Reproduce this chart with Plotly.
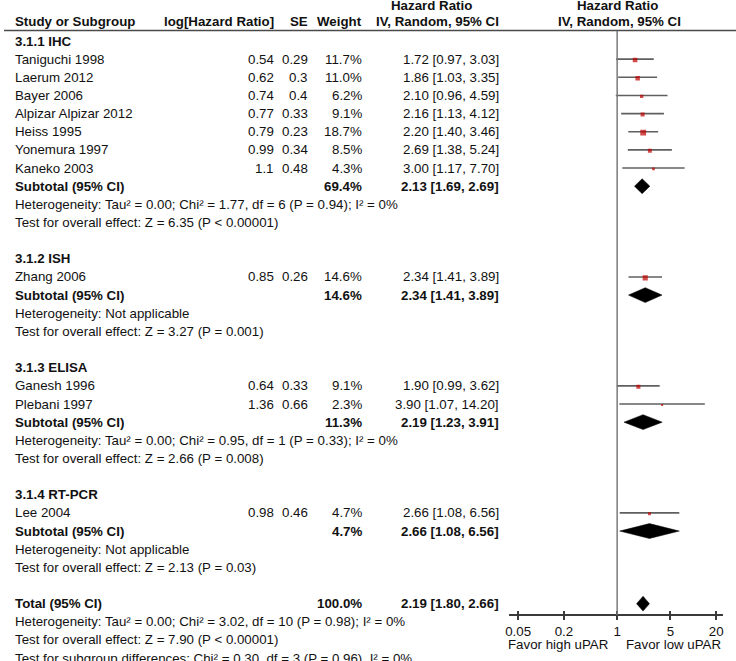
import math
import plotly.graph_objects as go

W, H = 736, 661
FONT = "Liberation Sans, Arial, sans-serif"
FS = 13.3
TXT = "#111111"

# ---------------- data ----------------
group_names = ["3.1.1 IHC", "3.1.2 ISH", "3.1.3 ELISA", "3.1.4 RT-PCR"]

ihc_studies = ["Taniguchi 1998", "Laerum 2012", "Bayer 2006", "Alpizar Alpizar 2012",
               "Heiss 1995", "Yonemura 1997", "Kaneko 2003"]
ihc_loghr = ["0.54", "0.62", "0.74", "0.77", "0.79", "0.99", "1.1"]
ihc_se = ["0.29", "0.3", "0.4", "0.33", "0.23", "0.34", "0.48"]
ihc_weight = [11.7, 11.0, 6.2, 9.1, 18.7, 8.5, 4.3]
ihc_hr = [1.72, 1.86, 2.10, 2.16, 2.20, 2.69, 3.00]
ihc_lo = [0.97, 1.03, 0.96, 1.13, 1.40, 1.38, 1.17]
ihc_hi = [3.03, 3.35, 4.59, 4.12, 3.46, 5.24, 7.70]

ish_studies = ["Zhang 2006"]
ish_loghr = ["0.85"]
ish_se = ["0.26"]
ish_weight = [14.6]
ish_hr = [2.34]
ish_lo = [1.41]
ish_hi = [3.89]

elisa_studies = ["Ganesh 1996", "Plebani 1997"]
elisa_loghr = ["0.64", "1.36"]
elisa_se = ["0.33", "0.66"]
elisa_weight = [9.1, 2.3]
elisa_hr = [1.90, 3.90]
elisa_lo = [0.99, 1.07]
elisa_hi = [3.62, 14.20]

rtpcr_studies = ["Lee 2004"]
rtpcr_loghr = ["0.98"]
rtpcr_se = ["0.46"]
rtpcr_weight = [4.7]
rtpcr_hr = [2.66]
rtpcr_lo = [1.08]
rtpcr_hi = [6.56]

subtotal_weight = [69.4, 14.6, 11.3, 4.7]
subtotal_hr = [2.13, 2.34, 2.19, 2.66]
subtotal_lo = [1.69, 1.41, 1.23, 1.08]
subtotal_hi = [2.69, 3.89, 3.91, 6.56]
heterogeneity = [
    "Heterogeneity: Tau² = 0.00; Chi² = 1.77, df = 6 (P = 0.94); I² = 0%",
    "Heterogeneity: Not applicable",
    "Heterogeneity: Tau² = 0.00; Chi² = 0.95, df = 1 (P = 0.33); I² = 0%",
    "Heterogeneity: Not applicable",
]
overall_effect = [
    "Test for overall effect: Z = 6.35 (P < 0.00001)",
    "Test for overall effect: Z = 3.27 (P = 0.001)",
    "Test for overall effect: Z = 2.66 (P = 0.008)",
    "Test for overall effect: Z = 2.13 (P = 0.03)",
]

total_weight = 100.0
total_hr = 2.19
total_lo = 1.80
total_hi = 2.66
total_notes = [
    "Heterogeneity: Tau² = 0.00; Chi² = 3.02, df = 10 (P = 0.98); I² = 0%",
    "Test for overall effect: Z = 7.90 (P < 0.00001)",
    "Test for subgroup differences: Chi² = 0.30, df = 3 (P = 0.96), I² = 0%",
]

tick_vals = [0.05, 0.2, 1, 5, 20]
tick_text = ["0.05", "0.2", "1", "5", "20"]
favor_left = "Favor high uPAR"
favor_right = "Favor low uPAR"

groups = [
    (ihc_studies, ihc_loghr, ihc_se, ihc_weight, ihc_hr, ihc_lo, ihc_hi),
    (ish_studies, ish_loghr, ish_se, ish_weight, ish_hr, ish_lo, ish_hi),
    (elisa_studies, elisa_loghr, elisa_se, elisa_weight, elisa_hr, elisa_lo, elisa_hi),
    (rtpcr_studies, rtpcr_loghr, rtpcr_se, rtpcr_weight, rtpcr_hr, rtpcr_lo, rtpcr_hi),
]

# ---------------- layout geometry ----------------
ROW0_PX = 41.0
ROW_H = 18.15


def row_of_px(p):
    return (p - ROW0_PX) / ROW_H


def px(x):
    return x / W


X_NAME = px(11)
X_LOG = px(271)
X_SE = px(306)
X_W = px(360)
X_CI = px(498)

annotations = []


def txt(x, row, text, anchor="left", bold=False, size=FS):
    annotations.append(dict(
        x=x, y=row, xref="paper", yref="y", text=("<b>%s</b>" % text) if bold else text,
        showarrow=False, xanchor=anchor, yanchor="middle",
        font=dict(family=FONT, size=size, color=TXT), borderpad=0, borderwidth=0))


def fmt_ci(h, l, u):
    return "%.2f [%.2f, %.2f]" % (h, l, u)


ci_x, ci_y = [], []
sq_x, sq_y, sq_s = [], [], []
diamonds = []

row = 0
for gi, g in enumerate(groups):
    studies, lhr, se, wt, hr, lo, hi = g
    txt(X_NAME, row, group_names[gi], bold=True)
    row += 1
    for i in range(len(studies)):
        txt(X_NAME, row, studies[i])
        txt(X_LOG, row, lhr[i], "right")
        txt(X_SE, row, se[i], "right")
        txt(X_W, row, "%.1f%%" % wt[i], "right")
        txt(X_CI, row, fmt_ci(hr[i], lo[i], hi[i]), "right")
        ci_x += [lo[i], hi[i], None]
        ci_y += [row, row, None]
        sq_x.append(hr[i])
        sq_y.append(row + 0.05)
        sq_s.append(1.35 * math.sqrt(wt[i]))
        row += 1
    txt(X_NAME, row, "Subtotal (95% CI)", bold=True)
    txt(X_W, row, "%.1f%%" % subtotal_weight[gi], "right", bold=True)
    txt(X_CI, row, fmt_ci(subtotal_hr[gi], subtotal_lo[gi], subtotal_hi[gi]), "right", bold=True)
    diamonds.append((subtotal_lo[gi], subtotal_hr[gi], subtotal_hi[gi], row))
    row += 1
    txt(X_NAME, row, heterogeneity[gi])
    row += 1
    txt(X_NAME, row, overall_effect[gi])
    row += 2

# total
txt(X_NAME, row, "Total (95% CI)", bold=True)
txt(X_W, row, "%.1f%%" % total_weight, "right", bold=True)
txt(X_CI, row, fmt_ci(total_hr, total_lo, total_hi), "right", bold=True)
diamonds.append((total_lo, total_hr, total_hi, row))
row += 1
for note in total_notes:
    txt(X_NAME, row, note)
    row += 1

# headers
HDR = row_of_px(21)
txt(X_NAME, HDR, "Study or Subgroup", bold=True)
txt(X_LOG, HDR, "log[Hazard Ratio]", "right", bold=True)
txt(X_SE, HDR, "SE", "right", bold=True)
txt(X_W, HDR, "Weight", "right", bold=True)
txt(X_CI, HDR, "IV, Random, 95% CI", "right", bold=True)
txt(px(430), row_of_px(5.5), "Hazard Ratio", "center", bold=True)
txt(px(617), row_of_px(5.5), "Hazard Ratio", "center", bold=True)
txt(px(619), HDR, "IV, Random, 95% CI", "center", bold=True)

# favour labels
txt(px(507), row_of_px(644), favor_left, "left")
txt(px(721), row_of_px(644), favor_right, "right")

# ---------------- figure ----------------
fig = go.Figure()

fig.add_trace(go.Scatter(x=ci_x, y=ci_y, mode="lines",
                         line=dict(color="#5f5f5f", width=1.6),
                         hoverinfo="skip", showlegend=False))
fig.add_trace(go.Scatter(x=sq_x, y=sq_y, mode="markers",
                         marker=dict(symbol="square", size=sq_s, color="#c00000",
                                     line=dict(width=0)),
                         showlegend=False))
DH = 0.41
for lo, est, hi, r in diamonds:
    fig.add_trace(go.Scatter(x=[lo, est, hi, est, lo], y=[r, r - DH, r, r + DH, r],
                             mode="lines", fill="toself", fillcolor="black",
                             line=dict(color="black", width=0.5),
                             hoverinfo="skip", showlegend=False))

AXIS_PX = 615
xr = [-1.418, 1.392]
fig.update_layout(
    width=W, height=H,
    margin=dict(l=0, r=0, t=0, b=0),
    paper_bgcolor="white", plot_bgcolor="white",
    showlegend=False,
    xaxis=dict(type="log", range=xr, domain=[508 / W, 723 / W],
               anchor="free", position=1 - AXIS_PX / H,
               showgrid=False, zeroline=False, showline=True,
               linecolor="#3a3a3a", linewidth=1.5,
               ticks="outside", ticklen=4, tickwidth=1.5, tickcolor="#3a3a3a",
               tickvals=tick_vals, ticktext=tick_text,
               tickfont=dict(family=FONT, size=FS, color=TXT)),
    xaxis2=dict(type="log", range=xr, domain=[508 / W, 723 / W],
                anchor="free", position=1 - AXIS_PX / H, overlaying="x",
                showgrid=False, zeroline=False, showline=False,
                ticks="inside", ticklen=4, tickwidth=1.5, tickcolor="#3a3a3a",
                tickvals=tick_vals, showticklabels=False),
    yaxis=dict(range=[row_of_px(H), row_of_px(0)], domain=[0, 1],
               visible=False, showgrid=False, zeroline=False),
    annotations=annotations,
    shapes=[
        dict(type="line", xref="paper", yref="y", x0=0, x1=1,
             y0=row_of_px(30.5), y1=row_of_px(30.5),
             line=dict(color="#4a4a4a", width=1.5)),
        dict(type="line", xref="x", yref="y", x0=1, x1=1,
             y0=row_of_px(31), y1=row_of_px(AXIS_PX),
             line=dict(color="#7a7a7a", width=1.5)),
    ],
)
# dummy trace to activate xaxis2
fig.add_trace(go.Scatter(x=[1], y=[None], xaxis="x2", mode="markers",
                         showlegend=False, hoverinfo="skip"))

fig.write_html(
    "out.html",
    config={"displayModeBar": False},
    post_script="document.body.style.margin='0';document.body.style.padding='0';"
                "document.body.style.overflow='hidden';",
)
